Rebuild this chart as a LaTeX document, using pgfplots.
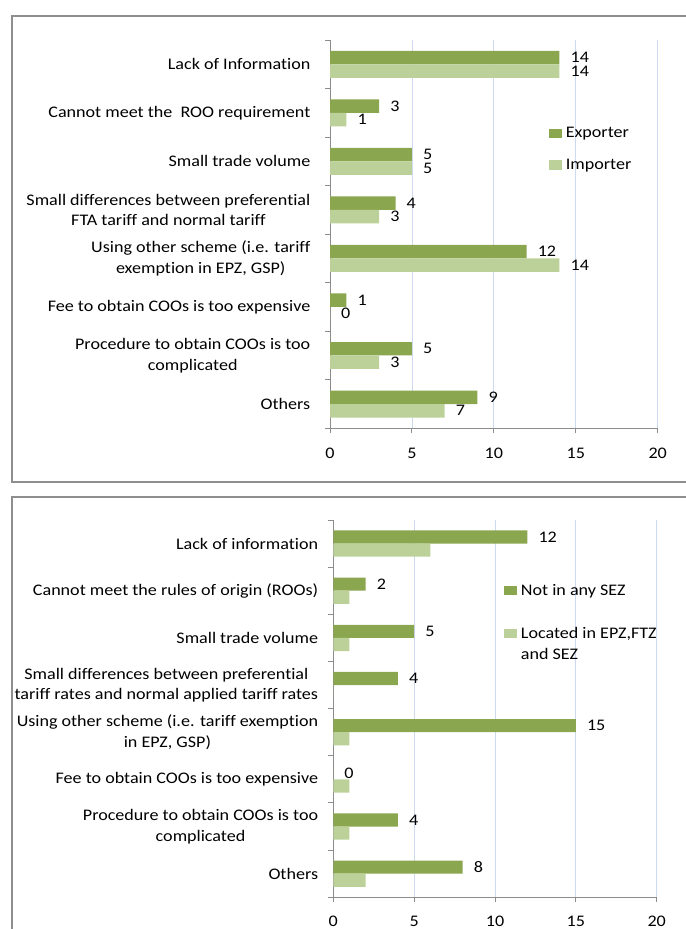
\documentclass[border=0pt]{standalone}
\usepackage{pgfplots}
\pgfplotsset{compat=1.18}
\usepackage{pgfplotstable}
\usepackage{fontspec}
\setmainfont{Carlito}[FakeStretch=1.12, Ligatures=NoCommon]

\definecolor{darkolive}{HTML}{8AA64F}
\definecolor{lightolive}{HTML}{BCD19A}
\definecolor{gridblue}{HTML}{CCD9EE}
\definecolor{axisgray}{HTML}{8C8C8C}
\definecolor{framegray}{HTML}{8E8E8E}

\newcommand\lbl{\fontsize{16.2}{20.7}\selectfont}

% Reasons for not using FTA preferences: exporters vs importers
\pgfplotstableread{
cat exporter importer
0   14       14
1   3        1
2   5        5
3   4        3
4   12       14
5   1        0
6   5        3
7   9        7
}\tradeside

% Same reasons, by location of the firm
\pgfplotstableread{
cat notsez insez
0   12     6
1   2      1
2   5      1
3   4      0
4   15     1
5   0      1
6   4      1
7   8      2
}\zoneside

\pgfplotsset{
  barpanel/.style={
    xbar, scale only axis, y dir=reverse, clip=false,
    xmin=0, xmax=20, ymin=-0.5, ymax=7.5,
    xtick={0,5,...,20}, ytick={0,...,7},
    minor ytick={-0.5,0.5,...,7.5},
    axis x line*=bottom, axis y line*=left,
    axis line style={axisgray, line width=1bp},
    tick align=outside,
    major tick length=5bp, minor tick length=5bp,
    every tick/.style={axisgray, line width=1bp},
    major y tick style={draw=none},
    xmajorgrids, major x grid style={gridblue, line width=0.8bp},
    bar width=0.278,
    /pgf/number format/assume math mode=true,
    tick label style={font=\lbl, text=black, inner sep=0pt},
    yticklabel style={align=center, anchor=east},
    xticklabel style={anchor=north},
    nodes near coords style={anchor=west, inner sep=0pt, xshift=11bp, font=\lbl, text=black},
    legend cell align=left,
    legend style={draw=none, fill=none, font=\lbl, inner sep=0pt,
      nodes={inner sep=0pt}, cells={align=left}, /tikz/column sep=4bp},
  },
  sq/.style={legend image code/.code={\fill[##1] (0bp,-4.6bp) rectangle (12.7bp,4.6bp);}},
  sqtwo/.style={legend image code/.code={\fill[##1] (0bp,6.1bp) rectangle (12.7bp,15.3bp);}},
  darkbar/.style={fill=darkolive, draw=none, bar shift=-0.139, sq},
  lightbar/.style={fill=lightolive, draw=none, bar shift=0.139, sq},
}

\begin{document}
\begin{tikzpicture}
\path[use as bounding box] (0,0) rectangle (686bp,929bp);
% panel frames
\draw[framegray, line width=1.4bp] (12bp,913bp) rectangle (720bp,447bp);
\draw[framegray, line width=1.4bp] (12bp,432bp) rectangle (720bp,-30bp);

\begin{axis}[barpanel,
  at={(330bp,500.7bp)}, anchor=south west,
  width=327.7bp, height=388.3bp,
  yticklabel style={xshift=-14.5bp},
  xticklabel style={yshift=-14.2bp},
  yticklabels={
    Lack of Information,
    Cannot meet the\ \ ROO requirement,
    Small trade volume,
    {Small differences between preferential\\FTA tariff and normal tariff},
    {Using other scheme (i.e. tariff\\exemption in EPZ, GSP)},
    Fee to obtain COOs is too expensive,
    {Procedure to obtain COOs is too\\complicated},
    Others},
  legend style={at={(0.668,0.776)}, anchor=north west, /tikz/row sep=20bp},
]
\addplot[darkbar, nodes near coords] table[x=exporter, y=cat] {\tradeside};
\addplot[lightbar, nodes near coords] table[x=importer, y=cat] {\tradeside};
\legend{Exporter, Importer}
\end{axis}

\begin{axis}[barpanel,
  at={(333.3bp,31.7bp)}, anchor=south west,
  width=323.4bp, height=377.3bp,
  yticklabel style={xshift=-10bp},
  xticklabel style={yshift=-13.3bp},
  yticklabels={
    Lack of information,
    Cannot meet the rules of origin (ROOs),
    Small trade volume,
    {Small differences between preferential\\tariff rates and normal applied tariff rates},
    {Using other scheme (i.e. tariff exemption\\in EPZ, GSP)},
    Fee to obtain COOs is too expensive,
    {Procedure to obtain COOs is too\\complicated},
    Others},
  legend style={at={(0.528,0.830)}, anchor=north west, /tikz/row sep=30.4bp},
]
\addplot[darkbar, nodes near coords] table[x=notsez, y=cat] {\zoneside};
\addplot[lightbar, sqtwo] table[x=insez, y=cat] {\zoneside};
\legend{Not in any SEZ, {Located in EPZ,FTZ\\and SEZ}}
\end{axis}
\end{tikzpicture}
\end{document}
